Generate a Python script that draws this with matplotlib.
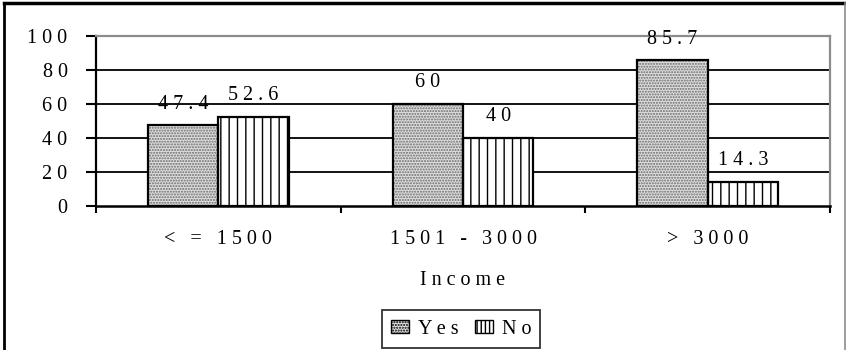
import matplotlib
matplotlib.use("Agg")
import matplotlib.pyplot as plt
import numpy as np
from matplotlib.lines import Line2D
from matplotlib.patches import Patch

categories = ["< = 1500", "1501 - 3000", "> 3000"]
yes_values = [47.4, 60, 85.7]
no_values = [52.6, 40, 14.3]
yes_labels = ["47.4", "60", "85.7"]
no_labels = ["52.6", "40", "14.3"]
y_ticks = [0, 20, 40, 60, 80, 100]
x_title = "Income"
series_names = ["Yes", "No"]


def spread(text):
    """Widen letter spacing by putting a space between characters."""
    return "   ".join(" ".join(word) for word in text.split(" "))


plt.rcParams["font.family"] = ["Liberation Serif", "DejaVu Serif"]
plt.rcParams["hatch.linewidth"] = 1.0

FS = 14.5
YES_FACE = "#dedede"
YES_DOT = "#6a6a6a"

fig = plt.figure(figsize=(8.46, 3.5), dpi=100)
ax = fig.add_axes([96 / 846, 1 - 206 / 350, (830 - 96) / 846, (206 - 36) / 350])

x = np.arange(len(categories))
w = 0.287

# hatch layers (hatch colour follows edge colour), then black outlines on top
ax.bar(x - w / 2, yes_values, w, facecolor=YES_FACE, edgecolor=YES_DOT,
       hatch="......", linewidth=0, zorder=3)
ax.bar(x + w / 2, no_values, w, facecolor="white", edgecolor="black",
       hatch="||", linewidth=0, zorder=3)
ax.bar(x - w / 2, yes_values, w, fill=False, edgecolor="black", linewidth=1.6, zorder=4)
ax.bar(x + w / 2, no_values, w, fill=False, edgecolor="black", linewidth=1.6, zorder=4)

for xi, v, lab in zip(x - w / 2, yes_values, yes_labels):
    ax.annotate(spread(lab), (xi, v), xytext=(0, 12), textcoords="offset points",
                ha="center", va="baseline", fontsize=FS, zorder=5)
for xi, v, lab in zip(x + w / 2, no_values, no_labels):
    ax.annotate(spread(lab), (xi, v), xytext=(0, 12), textcoords="offset points",
                ha="center", va="baseline", fontsize=FS, zorder=5)

ax.set_xlim(-0.5, len(categories) - 0.5)
ax.set_ylim(0, 100)
ax.set_yticks(y_ticks)
ax.set_yticklabels([spread(str(t)) for t in y_ticks], fontsize=FS)

# category labels between boundary ticks
ax.set_xticks(np.arange(len(categories) + 1) - 0.5)
ax.set_xticklabels([])
ax.set_xticks(x, minor=True)
ax.set_xticklabels([spread(c) for c in categories], minor=True, fontsize=FS)
ax.tick_params(axis="x", which="minor", length=0, pad=17)
ax.tick_params(axis="x", which="major", direction="out", length=5, width=1.5, color="black")
ax.tick_params(axis="y", direction="out", length=7.5, width=1.5, pad=13)

for yv in y_ticks[1:-1]:
    ax.axhline(yv, color="black", linewidth=1.3, zorder=1)

ax.spines["left"].set_linewidth(1.6)
ax.spines["bottom"].set_linewidth(1.8)
ax.spines["top"].set_color("#8c8c8c")
ax.spines["right"].set_color("#8c8c8c")
ax.spines["top"].set_linewidth(1.6)
ax.spines["right"].set_linewidth(1.6)

ax.set_xlabel(spread(x_title), fontsize=FS, labelpad=16)

handles = [Patch(facecolor=YES_FACE, edgecolor="black", hatch="......", linewidth=1.0),
           Patch(facecolor="white", edgecolor="black", hatch="||||", linewidth=1.0)]
leg = fig.legend(handles, [spread(s) for s in series_names], loc="center",
                 bbox_to_anchor=(461 / 846, 1 - 329 / 350), ncol=2, fontsize=FS,
                 frameon=True, fancybox=False, edgecolor="black", handlelength=0.9,
                 handleheight=0.6, handletextpad=0.45, columnspacing=0.8,
                 borderpad=0.45)
leg.get_frame().set_linewidth(1.3)

# outer chart border
fig.add_artist(Line2D([4 / 846, 4 / 846], [0, 1 - 3 / 350], transform=fig.transFigure,
                      color="black", linewidth=2))
fig.add_artist(Line2D([4 / 846, 845 / 846], [1 - 3 / 350, 1 - 3 / 350], transform=fig.transFigure,
                      color="black", linewidth=2.5))
fig.add_artist(Line2D([845 / 846, 845 / 846], [0, 1 - 3 / 350], transform=fig.transFigure,
                      color="#8c8c8c", linewidth=1.2))

fig.savefig("out.png", dpi=100)
